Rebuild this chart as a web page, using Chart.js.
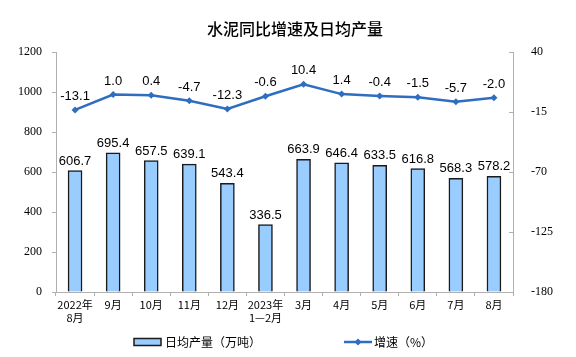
<!DOCTYPE html>
<html><head><meta charset="utf-8">
<script src="https://cdn.jsdelivr.net/npm/chart.js@4/dist/chart.umd.min.js"></script>
<style>html,body{margin:0;padding:0;background:#fff}#wrap{width:576px;height:357px}</style>
</head><body><div id="wrap"><canvas id="c" width="576" height="357"></canvas></div>
<script>
const categories = [["2022年","8月"],"9月","10月","11月","12月",["2023年","1—2月"],"3月","4月","5月","6月","7月","8月"];
const dailyOutput = [606.7,695.4,657.5,639.1,543.4,336.5,663.9,646.4,633.5,616.8,568.3,578.2];
const growthRate = [-13.1,1.0,0.4,-4.7,-12.3,-0.6,10.4,1.4,-0.4,-1.5,-5.7,-2.0];
const leftTicks = [0,200,400,600,800,1000,1200];
const rightTicks = [-180,-125,-70,-15,40];
const titleText = "水泥同比增速及日均产量";
const barLegend = "日均产量（万吨）";
const lineLegend = "增速（%）";

const BAR_COLOR = '#99CCFF', BAR_BORDER = '#1a1a1a', LINE_COLOR = '#2E6DC0';
const CJK = '"Noto Sans CJK SC", sans-serif';
const SERIF = '"Liberation Serif", "DejaVu Serif", serif';
const SANS = '"Liberation Sans", Arial, sans-serif';

const extras = {
  id: 'extras',
  afterDatasetsDraw(chart) {
    const ctx = chart.ctx;
    ctx.save();
    ctx.fillStyle = '#000';
    ctx.font = '13px ' + SANS;
    ctx.textAlign = 'center';
    ctx.textBaseline = 'bottom';
    chart.getDatasetMeta(1).data.forEach((el, i) => {
      ctx.fillText(dailyOutput[i].toFixed(1), el.x, el.y - 3);
    });
    chart.getDatasetMeta(0).data.forEach((el, i) => {
      ctx.fillText(growthRate[i].toFixed(1), el.x, el.y - 7);
    });
    // right axis inward ticks
    const y1 = chart.scales.y1;
    ctx.strokeStyle = '#b0b0b0'; ctx.lineWidth = 1;
    rightTicks.forEach(v => {
      const py = Math.round(y1.getPixelForValue(v)) + 0.5;
      ctx.beginPath(); ctx.moveTo(y1.left - 4, py); ctx.lineTo(y1.left, py); ctx.stroke();
    });
    // title
    ctx.font = '500 16px ' + CJK;
    ctx.textBaseline = 'middle';
    ctx.fillText(titleText, 295, 29);
    // legend
    const ly = 342;
    ctx.fillStyle = BAR_COLOR; ctx.strokeStyle = BAR_BORDER; ctx.lineWidth = 1.5;
    ctx.fillRect(134, ly - 3.5, 27, 7); ctx.strokeRect(134, ly - 3.5, 27, 7);
    ctx.fillStyle = '#000'; ctx.font = '12px ' + CJK; ctx.textAlign = 'left';
    ctx.fillText(barLegend, 165, ly);
    ctx.strokeStyle = LINE_COLOR; ctx.lineWidth = 2.5;
    ctx.beginPath(); ctx.moveTo(344, ly); ctx.lineTo(372, ly); ctx.stroke();
    ctx.fillStyle = LINE_COLOR;
    ctx.beginPath(); ctx.moveTo(358, ly - 3.5); ctx.lineTo(361.5, ly); ctx.lineTo(358, ly + 3.5); ctx.lineTo(354.5, ly); ctx.closePath(); ctx.fill();
    ctx.fillStyle = '#000';
    ctx.fillText(lineLegend, 374, ly);
    ctx.restore();
  }
};

new Chart(document.getElementById('c'), {
  data: {
    labels: categories,
    datasets: [
      { type: 'line', label: lineLegend, data: growthRate, yAxisID: 'y1', order: 0,
        borderColor: LINE_COLOR, backgroundColor: LINE_COLOR, borderWidth: 2.5,
        pointStyle: 'rectRot', pointRadius: 3.5, pointBorderWidth: 0, tension: 0 },
      { type: 'bar', label: barLegend, data: dailyOutput, yAxisID: 'y', order: 1,
        backgroundColor: BAR_COLOR, borderColor: BAR_BORDER, borderWidth: 1.5, barThickness: 14 }
    ]
  },
  options: {
    responsive: false, animation: false, devicePixelRatio: 1,
    layout: { padding: { top: 52, bottom: 25, left: 0, right: 0 } },
    plugins: { legend: { display: false }, title: { display: false }, tooltip: { enabled: false } },
    scales: {
      x: {
        offset: true,
        grid: { display: true, drawOnChartArea: false, offset: true, tickLength: 4, color: '#b0b0b0' },
        border: { color: '#b0b0b0' },
        ticks: { color: '#000', font: { family: CJK, size: 11 }, padding: 2, maxRotation: 0, autoSkip: false },
        afterFit(s) { s.height = 40; }
      },
      y: {
        position: 'left', min: 0, max: 1200,
        afterBuildTicks(s) { s.ticks = leftTicks.map(v => ({ value: v })); },
        grid: { display: true, drawOnChartArea: false, tickLength: 4, color: '#b0b0b0' },
        border: { color: '#b0b0b0' },
        ticks: { color: '#000', font: { family: SERIF, size: 12 }, padding: 10, callback: v => String(v) },
        afterFit(s) { s.width = 56; }
      },
      y1: {
        position: 'right', min: -180, max: 40,
        afterBuildTicks(s) { s.ticks = rightTicks.map(v => ({ value: v })); },
        grid: { display: false, drawOnChartArea: false },
        border: { display: true, color: '#b0b0b0' },
        ticks: { color: '#000', font: { family: SERIF, size: 12 }, padding: 10, callback: v => String(v) },
        afterFit(s) { s.width = 63; }
      }
    }
  },
  plugins: [extras]
});
</script></body></html>
